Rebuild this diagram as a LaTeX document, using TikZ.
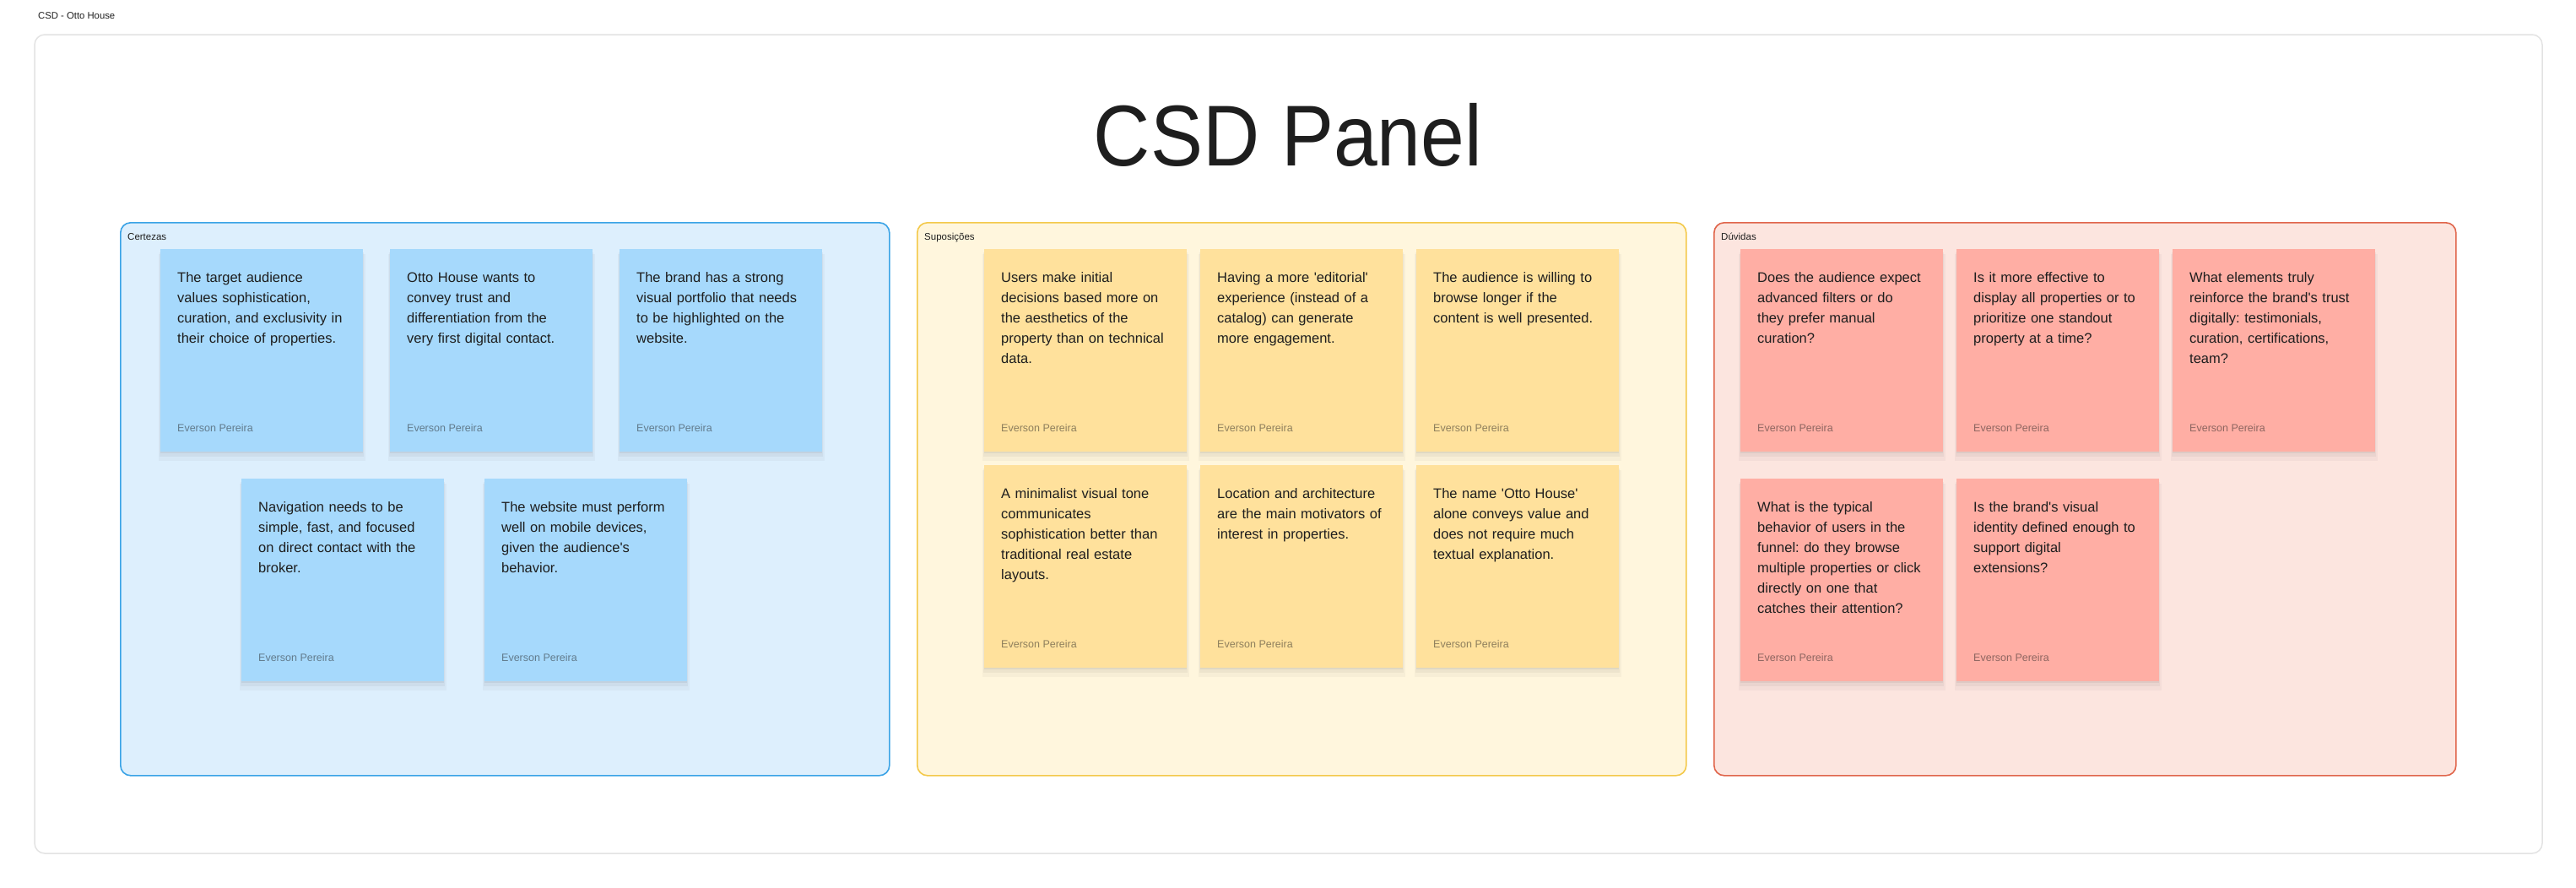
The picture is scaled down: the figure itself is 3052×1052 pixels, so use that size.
\documentclass[tikz,border=0pt]{standalone}
\usepackage{fontspec}
\setmainfont{Liberation Sans}[Ligatures=TeXOff]
\usepackage{xcolor}
\usepackage{graphicx}
\usetikzlibrary{positioning,shadows}
\definecolor{inkDark}{HTML}{1E1E1E}
\definecolor{frameGray}{HTML}{E3E3E3}
\definecolor{certFill}{HTML}{DDEFFD}
\definecolor{certLine}{HTML}{3AA3E6}
\definecolor{certNote}{HTML}{A6D9FC}
\definecolor{supFill}{HTML}{FFF6DD}
\definecolor{supLine}{HTML}{F3C94A}
\definecolor{supNote}{HTML}{FFE19C}
\definecolor{duvFill}{HTML}{FCE5DF}
\definecolor{duvLine}{HTML}{E0654B}
\definecolor{duvNote}{HTML}{FFAEA4}
\frenchspacing

% sticky note: name, x, y, colour, text
\newcommand{\csdnote}[5]{%
  \node[sticky, fill=#4] (#1) at (#2,#3) {};
  \node[body] (#1-txt) at ([xshift=20pt,yshift=-39pt]#1.north west) {#5};
  \node[author] (#1-who) at ([xshift=20pt,yshift=-216pt]#1.north west) {Everson Pereira};
}

\begin{document}
\begin{tikzpicture}[x=1pt, y=-1pt, text=inkDark,
    section/.style={line width=1.6pt, rounded corners=12pt, anchor=north west, inner sep=0pt, minimum height=655pt},
    seclabel/.style={anchor=base west, inner sep=0pt, font=\fontsize{11.5}{14}\selectfont},
    sticky/.style={anchor=north west, minimum width=240pt, minimum height=240pt, inner sep=0pt,
      drop shadow={shadow xshift=0pt, shadow yshift=-8pt, shadow scale=1.02, opacity=.03, fill=black},
      drop shadow={shadow xshift=0pt, shadow yshift=-5pt, shadow scale=1.01, opacity=.04, fill=black},
      drop shadow={shadow xshift=0pt, shadow yshift=-2pt, opacity=.05, fill=black}},
    body/.style={anchor=base west, inner sep=0pt, text width=225pt, align=left, font=\fontsize{16.5}{24}\selectfont},
    author/.style={anchor=base west, inner sep=0pt, text opacity=.5, font=\fontsize{12.5}{15}\selectfont}]
    \path[use as bounding box, fill=white] (0,0) rectangle (3052,1052);
    \draw[frameGray, line width=1.5pt, rounded corners=12pt, fill=white] (41,41) rectangle (3012,1011);
    \node[anchor=base west, inner sep=0pt, font=\fontsize{11.3}{13}\selectfont] (header) at (45,22) {CSD - Otto House};
    \node[anchor=base, inner sep=0pt, font=\fontsize{93}{100}\selectfont] (title) at (1526,196) {\scalebox{1}[1.1]{CSD Panel}};

    \node[section, draw=certLine, fill=certFill, minimum width=911pt] (cert) at (142,263) {};
    \node[section, draw=supLine, fill=supFill, minimum width=911pt] (sup) at (1086,263) {};
    \node[section, draw=duvLine, fill=duvFill, minimum width=879pt] (duv) at (2030,263) {};
    \node[seclabel] (certLabel) at ([xshift=9pt,yshift=-21pt]cert.north west) {Certezas};
    \node[seclabel] (supLabel) at ([xshift=9pt,yshift=-21pt]sup.north west) {Suposições};
    \node[seclabel] (duvLabel) at ([xshift=9pt,yshift=-21pt]duv.north west) {Dúvidas};

    \csdnote{c1}{190}{295}{certNote}{The target audience\\values sophistication,\\curation, and exclusivity in\\their choice of properties.}
    \csdnote{c2}{462}{295}{certNote}{Otto House wants to\\convey trust and\\differentiation from the\\very first digital contact.}
    \csdnote{c3}{734}{295}{certNote}{The brand has a strong\\visual portfolio that needs\\to be highlighted on the\\website.}
    \csdnote{c4}{286}{567}{certNote}{Navigation needs to be\\simple, fast, and focused\\on direct contact with the\\broker.}
    \csdnote{c5}{574}{567}{certNote}{The website must perform\\well on mobile devices,\\given the audience's\\behavior.}

    \csdnote{s1}{1166}{295}{supNote}{Users make initial\\decisions based more on\\the aesthetics of the\\property than on technical\\data.}
    \csdnote{s2}{1422}{295}{supNote}{Having a more 'editorial'\\experience (instead of a\\catalog) can generate\\more engagement.}
    \csdnote{s3}{1678}{295}{supNote}{The audience is willing to\\browse longer if the\\content is well presented.}
    \csdnote{s4}{1166}{551}{supNote}{A minimalist visual tone\\communicates\\sophistication better than\\traditional real estate\\layouts.}
    \csdnote{s5}{1422}{551}{supNote}{Location and architecture\\are the main motivators of\\interest in properties.}
    \csdnote{s6}{1678}{551}{supNote}{The name 'Otto House'\\alone conveys value and\\does not require much\\textual explanation.}

    \csdnote{d1}{2062}{295}{duvNote}{Does the audience expect\\advanced filters or do\\they prefer manual\\curation?}
    \csdnote{d2}{2318}{295}{duvNote}{Is it more effective to\\display all properties or to\\prioritize one standout\\property at a time?}
    \csdnote{d3}{2574}{295}{duvNote}{What elements truly\\reinforce the brand's trust\\digitally: testimonials,\\curation, certifications,\\team?}
    \csdnote{d4}{2062}{567}{duvNote}{What is the typical\\behavior of users in the\\funnel: do they browse\\multiple properties or click\\directly on one that\\catches their attention?}
    \csdnote{d5}{2318}{567}{duvNote}{Is the brand's visual\\identity defined enough to\\support digital\\extensions?}
\end{tikzpicture}
\end{document}
